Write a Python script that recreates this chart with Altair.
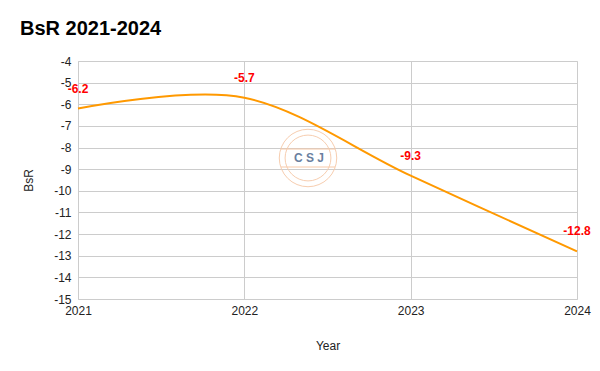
import altair as alt
import pandas as pd

years = [2021, 2022, 2023, 2024]
bsr = [-6.2, -5.7, -9.3, -12.8]
labels = ["-6.2", "-5.7", "-9.3", "-12.8"]
y_ticks = list(range(-15, -3))

df = pd.DataFrame({"Year": years, "BsR": bsr, "label": labels})

FONT = "Liberation Sans"

x_enc = alt.X(
    "Year:Q",
    scale=alt.Scale(domain=[2021, 2024], nice=False, zero=False),
    axis=alt.Axis(
        values=years, tickCount=len(years), format="d", title="Year", grid=True,
        gridColor="#cccccc", domain=False, ticks=False, labelPadding=6,
        labelFlush=False, labelOverlap=False,
        labelFontSize=12, labelColor="#222222", titleFontSize=12,
        titleFontWeight="normal", titleColor="#222222", titlePadding=24,
        labelFont=FONT, titleFont=FONT,
    ),
)
y_enc = alt.Y(
    "BsR:Q",
    scale=alt.Scale(domain=[-15, -4], nice=False, zero=False),
    axis=alt.Axis(
        values=y_ticks, tickCount=len(y_ticks), title="BsR", grid=True,
        labelExpr="'' + datum.value",
        gridColor="#cccccc", domain=True, domainColor="#cccccc", ticks=False,
        labelPadding=7, labelOverlap=False, labelFlush=False,
        labelFontSize=12, labelColor="#222222", titleFontSize=12,
        titleFontWeight="normal", titleColor="#222222", titlePadding=18,
        labelFont=FONT, titleFont=FONT,
    ),
)

base = alt.Chart(df)

line = base.mark_line(color="#ff9900", strokeWidth=2, interpolate="cardinal").encode(x=x_enc, y=y_enc)

text = base.mark_text(
    color="#ff0000", fontWeight="bold", fontSize=12, font=FONT, dy=-20
).encode(x="Year:Q", y="BsR:Q", text="label:N")

# faint watermark logo
wm_df = pd.DataFrame({"t": ["C S J"]})
wm_outer = alt.Chart(wm_df).mark_point(
    shape="circle", size=3300, filled=False, stroke="#f7c9a8", strokeWidth=1, opacity=0.9
).encode(x=alt.value(230), y=alt.value(97))
wm_inner = alt.Chart(wm_df).mark_point(
    shape="circle", size=2100, filled=False, stroke="#f7c9a8", strokeWidth=1, opacity=0.9
).encode(x=alt.value(230), y=alt.value(97))
wm_band1 = alt.Chart(wm_df).mark_rule(stroke="#f7c9a8", strokeWidth=1).encode(
    x=alt.value(203), x2=alt.value(257), y=alt.value(88))
wm_band2 = alt.Chart(wm_df).mark_rule(stroke="#f7c9a8", strokeWidth=1).encode(
    x=alt.value(203), x2=alt.value(257), y=alt.value(106))
wm_text = alt.Chart(wm_df).mark_text(
    color="#6a7f9f", fontWeight="bold", fontSize=12, font=FONT
).encode(x=alt.value(231), y=alt.value(97), text="t:N")

chart = alt.layer(wm_outer, wm_inner, wm_band1, wm_band2, wm_text, line, text).properties(
    width=499,
    height=238,
    title=alt.Title(
        "BsR 2021-2024", anchor="start", fontSize=20, fontWeight="bold",
        font=FONT, color="#000000", dx=-58, offset=0, baseline="alphabetic",
        frame="group",
    ),
    autosize=alt.AutoSizeParams(type="none"),
    padding={"left": 70, "top": 53, "right": 15, "bottom": 64},
).configure_view(stroke=None).configure(background="white")

chart.save("out.html", embed_options={"renderer": "svg", "actions": False})
